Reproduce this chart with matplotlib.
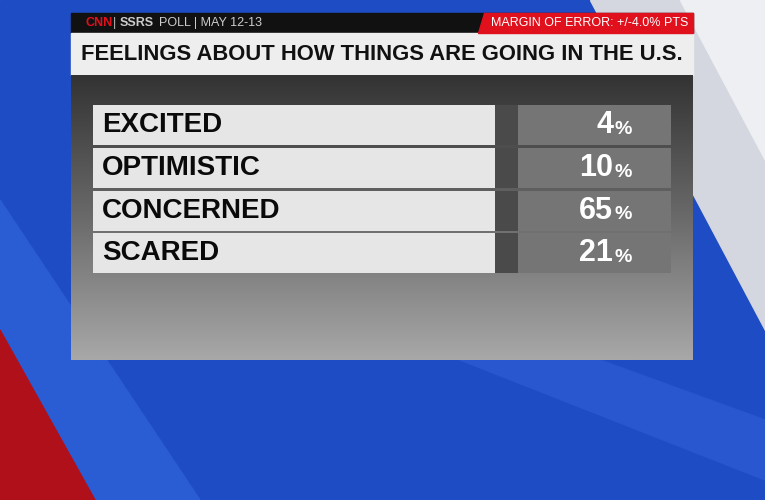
import matplotlib.pyplot as plt
import numpy as np
from matplotlib.patches import Polygon, Rectangle

# Data
categories = ['EXCITED', 'OPTIMISTIC', 'CONCERNED', 'SCARED']
values = [4, 10, 65, 21]
title = 'FEELINGS ABOUT HOW THINGS ARE GOING IN THE U.S.'
source = 'POLL | MAY 12-13'
moe = 'MARGIN OF ERROR: +/-4.0% PTS'

W, H = 765, 500
fig = plt.figure(figsize=(W / 100, H / 100), dpi=100)

# background in pixel coordinates
bg = fig.add_axes([0, 0, 1, 1])
bg.set_xlim(0, W)
bg.set_ylim(H, 0)
bg.axis('off')
bg.add_patch(Rectangle((0, 0), W, H, color='#1e4cc4', zorder=0))
bg.add_patch(Polygon([(590, 0), (765, 0), (765, 330)], color='#d4d7e0', zorder=1))
bg.add_patch(Polygon([(680, 0), (765, 0), (765, 160)], color='#eeeff3', zorder=1))
bg.add_patch(Polygon([(0, 200), (200, 500), (0, 500)], color='#2a5cd4', zorder=1))
bg.add_patch(Polygon([(0, 330), (95, 500), (0, 500)], color='#b0101a', zorder=2))
bg.add_patch(Polygon([(460, 360), (765, 480), (765, 420), (600, 360)], color='#2957cf', zorder=1))

# panel
bg.add_patch(Rectangle((71, 13), 622, 20, color='#111111', zorder=3))
bg.add_patch(Polygon([(484, 13), (693, 13), (693, 33), (478, 33)], color='#e0101c', zorder=4))
bg.add_patch(Rectangle((71, 33), 622, 42, color='#eeeeee', zorder=3))
grad = np.linspace(0, 1, 256).reshape(-1, 1)
bg.imshow(grad, extent=(71, 693, 360, 75), cmap=plt.matplotlib.colors.LinearSegmentedColormap.from_list(
    'g', ['#333333', '#6a6a6a', '#a8a8a8']), aspect='auto', zorder=3)

hdr = dict(fontsize=9, va='center', family='Liberation Sans', zorder=5)
bg.text(86, 23, 'CNN', color='#e0101c', fontweight='bold', **hdr)
bg.text(113, 23, '|', color='#bbbbbb', **hdr)
bg.text(120, 23, 'SSRS', color='#cccccc', fontweight='bold', **hdr)
bg.text(159, 23, source, color='#cccccc', **hdr)
bg.text(688, 23, moe, color='white', ha='right', **hdr)
bg.text(382, 54, title, color='#111111', fontsize=15.8, fontweight='bold', va='center', ha='center',
        family='Liberation Sans', zorder=5)

# rows
ax = fig.add_axes([93 / W, 1 - 276 / H, (671 - 93) / W, (276 - 105) / H])
ax.set_xlim(0, 1)
ax.set_ylim(len(categories) - 0.5 + 0.03, -0.5 + 0.03)
ax.axis('off')
y = np.arange(len(categories))
split = (495 - 93) / (671 - 93)
ax.barh(y, split, height=0.94, color='#e6e6e6', left=0)
ax.barh(y, 1 - split, height=0.94, color='#757575', left=split)
ax.barh(y, 0.04, height=0.94, color='#4a4a4a', left=split)
for i, (c, v) in enumerate(zip(categories, values)):
    ax.text(0.015, i, c, fontsize=20, fontweight='bold', va='center', color='#0a0a0a',
            family='Liberation Sans')
    ax.text(0.9, i, str(v), fontsize=22, fontweight='bold', va='center', ha='right',
            color='white', family='Liberation Sans')
    ax.text(0.902, i + 0.1, '%', fontsize=14, fontweight='bold', va='center', ha='left',
            color='white', family='Liberation Sans')

fig.savefig('out.png', dpi=100)
